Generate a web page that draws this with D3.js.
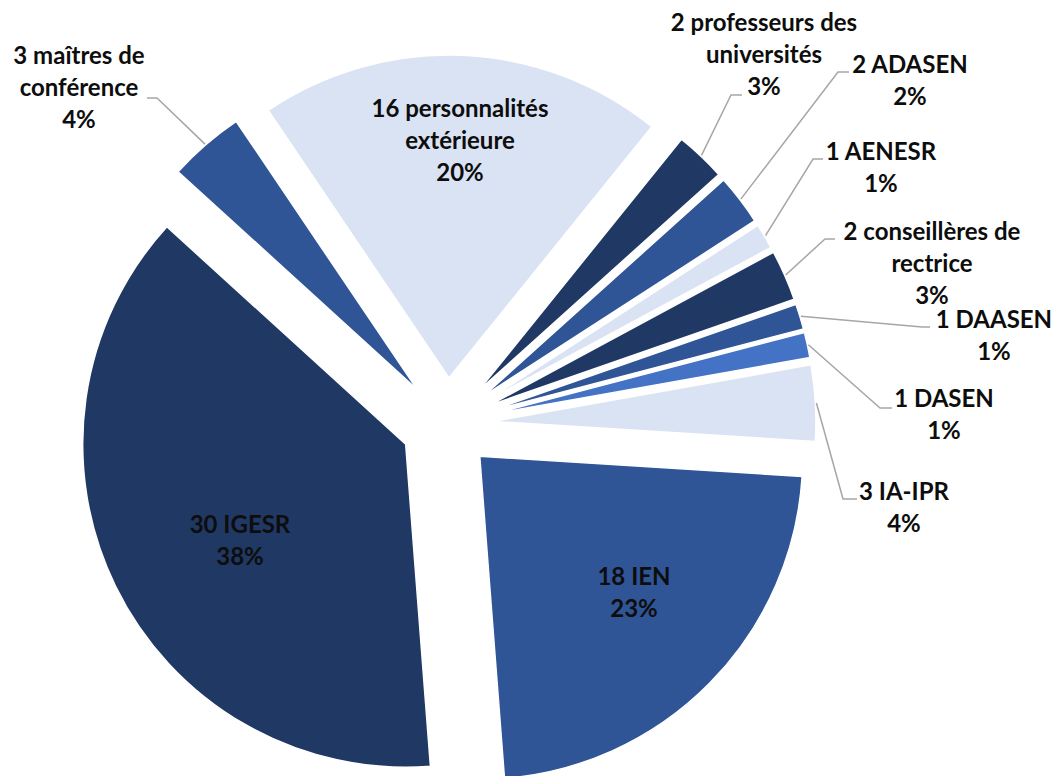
<!DOCTYPE html>
<html lang="fr">
<head>
<meta charset="utf-8">
<title>Composition</title>
<script src="https://cdn.jsdelivr.net/npm/d3@7"></script>
<style>
  body { margin: 0; background: #fff; }
  .lbl { font-family: Lato, "Open Sans", sans-serif; font-size: 24px; font-weight: bold; fill: #0d0d0d; text-anchor: middle; dominant-baseline: middle; }
  .leader { fill: none; stroke: #a6a6a6; stroke-width: 1.5px; }
</style>
</head>
<body>
<script>
// data, in the slice order (clockwise from upper right)
var labelLines = [
  ["2 professeurs des", "universités"],
  ["2 ADASEN"],
  ["1 AENESR"],
  ["2 conseillères de", "rectrice"],
  ["1 DAASEN"],
  ["1 DASEN"],
  ["3 IA-IPR"],
  ["18 IEN"],
  ["30 IGESR"],
  ["3 maîtres de", "conférence"],
  ["16 personnalités", "extérieure"]
];
var counts = [2, 2, 1, 2, 1, 1, 3, 18, 30, 3, 16];
var pcts = ["3%", "2%", "1%", "3%", "1%", "1%", "4%", "23%", "38%", "4%", "20%"];
var colors = ["#203864", "#2f5597", "#dae3f3", "#203864", "#2f5597", "#4472c4",
              "#dae3f3", "#2f5597", "#203864", "#2f5597", "#dae3f3"];

var w = 1059, h = 776;
var cx = 447, cy = 424;
var R = 323, explode = 46;
var lineH = 32;

// label layout: text centre x, first line y, and leader elbow (null = inside label)
var layout = [
  {x: 764, y: 25,  elbow: [731, 95],  end: [742, 95]},
  {x: 910, y: 67,  elbow: [838, 72],  end: [849, 72]},
  {x: 881, y: 154, elbow: [813, 159], end: [823, 159]},
  {x: 932, y: 234, elbow: [825, 239], end: [835, 239]},
  {x: 994, y: 322, elbow: [922, 327], end: [930, 327]},
  {x: 944, y: 401, elbow: [880, 408], end: [892, 408]},
  {x: 904, y: 494, elbow: [843, 499], end: [857, 499]},
  {x: 634, y: 579, elbow: null},
  {x: 240, y: 527, elbow: null},
  {x: 79,  y: 58,  elbow: [157, 98],  end: [147, 98]},
  {x: 460, y: 111, elbow: null}
];

var svg = d3.select("body").append("svg").attr("width", w).attr("height", h);

var pie = d3.pie().sort(null).value(function(d) { return d; })
  .startAngle(38.9 * Math.PI / 180).endAngle(38.9 * Math.PI / 180 + 2 * Math.PI);
var arcs = pie(counts);

var arc = d3.arc().innerRadius(0).outerRadius(R);

function mid(d) { return (d.startAngle + d.endAngle) / 2; }
function off(d, r) { var a = mid(d); return [r * Math.sin(a), -r * Math.cos(a)]; }

var g = svg.append("g").attr("transform", "translate(" + cx + "," + cy + ")");

g.selectAll("path.slice").data(arcs).enter().append("path")
  .attr("class", "slice")
  .attr("d", arc)
  .attr("transform", function(d) { var o = off(d, explode); return "translate(" + o[0] + "," + o[1] + ")"; })
  .attr("fill", function(d, i) { return colors[i]; })
  .attr("stroke", "#fff").attr("stroke-width", 1.5);

// leader lines
arcs.forEach(function(d, i) {
  var L = layout[i];
  if (!L.elbow) return;
  var p = off(d, R + explode + 1);
  svg.append("polyline").attr("class", "leader")
    .attr("points", [[cx + p[0], cy + p[1]], L.elbow, L.end].map(function(q) { return q.join(","); }).join(" "));
});

// labels
arcs.forEach(function(d, i) {
  var L = layout[i];
  var lines = labelLines[i].concat([pcts[i]]);
  var t = svg.append("text").attr("class", "lbl");
  lines.forEach(function(s, k) {
    t.append("tspan").attr("x", L.x).attr("y", L.y + k * lineH).text(s);
  });
});
</script>
</body>
</html>
